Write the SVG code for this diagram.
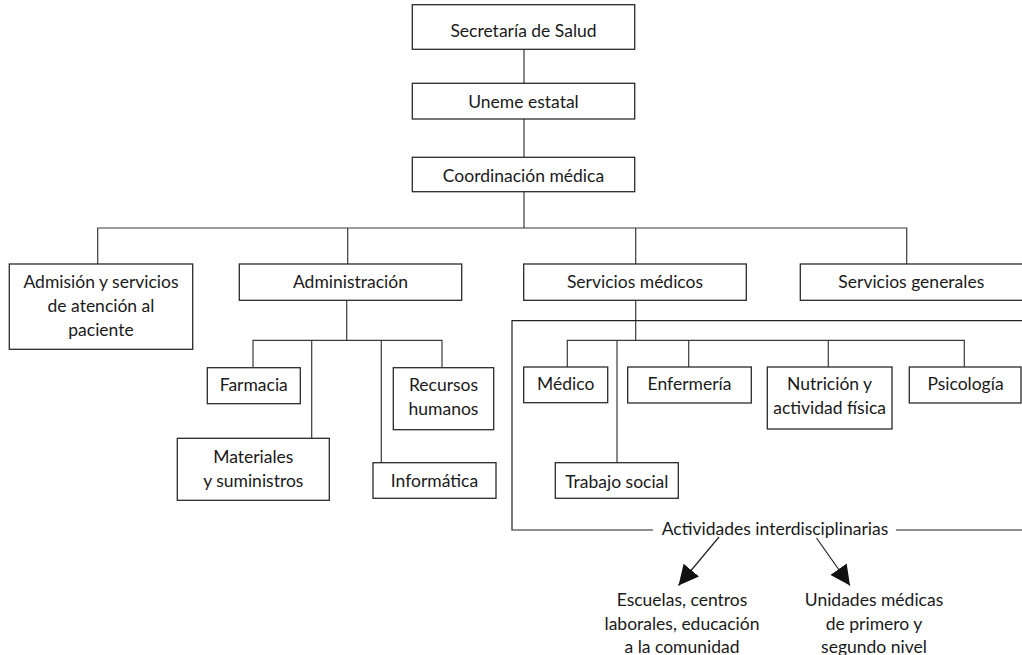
<svg xmlns="http://www.w3.org/2000/svg" width="1022" height="655" viewBox="0 0 1022 655">
<defs>
<style>
.box{fill:#fff;stroke:#2a2a2a;stroke-width:1.3}
.ln{fill:none;stroke:#3a3a3a;stroke-width:1.2}
.t{font-family:Lato,"Open Sans","Liberation Sans",sans-serif;font-size:17.5px;fill:#1a1a1a;text-anchor:middle}
</style>
<marker id="arr" viewBox="0 0 10 10" refX="10" refY="5" markerWidth="20" markerHeight="20" markerUnits="userSpaceOnUse" orient="auto">
<path d="M0,0 L10,5 L0,10 z" fill="#111"/>
</marker>
</defs>
<rect width="1022" height="655" fill="#fff"/>
<g id="connectors">
<line class="ln" x1="524" y1="49" x2="524" y2="83"/>
<line class="ln" x1="524" y1="119" x2="524" y2="157"/>
<line class="ln" x1="524" y1="192" x2="524" y2="228"/>
<polyline class="ln" points="97.7,264 97.7,228 906.7,228 906.7,264"/>
<line class="ln" x1="347.7" y1="228" x2="347.7" y2="264"/>
<line class="ln" x1="635.7" y1="228" x2="635.7" y2="264"/>
<line class="ln" x1="346.7" y1="300" x2="346.7" y2="340.3"/>
<polyline class="ln" points="253,367.7 253,340.3 442,340.3 442,367.7"/>
<line class="ln" x1="311.7" y1="340.3" x2="311.7" y2="438.3"/>
<line class="ln" x1="381.3" y1="340.3" x2="381.3" y2="462.7"/>
<line class="ln" x1="635.7" y1="300" x2="635.7" y2="340.3"/>
<polyline class="ln" points="567.3,367 567.3,340.3 964.3,340.3 964.3,367"/>
<line class="ln" x1="617" y1="340.3" x2="617" y2="462.7"/>
<line class="ln" x1="688.7" y1="340.3" x2="688.7" y2="367"/>
<line class="ln" x1="828.3" y1="340.3" x2="828.3" y2="367"/>
<polyline class="ln" points="1023,320.7 512,320.7 512,530 653,530" style="stroke:#222"/>
<line class="ln" x1="896" y1="530" x2="1023" y2="530" style="stroke:#222"/>
<line class="ln" x1="719" y1="537" x2="678.5" y2="585.5" marker-end="url(#arr)" style="stroke:#222"/>
<line class="ln" x1="816.5" y1="538" x2="850" y2="585.5" marker-end="url(#arr)" style="stroke:#222"/>
</g>
<g id="n-secretaria"><rect class="box" x="412.3" y="4.7" width="222.4" height="44.6"/><text class="t" x="523.5" y="36.5">Secretaría de Salud</text></g>
<g id="n-uneme"><rect class="box" x="412.3" y="83.3" width="222.4" height="35.7"/><text class="t" x="523.5" y="107.5">Uneme estatal</text></g>
<g id="n-coordinacion"><rect class="box" x="412.3" y="157.3" width="222.4" height="34.4"/><text class="t" x="523.5" y="181.5">Coordinación médica</text></g>
<g id="n-admision"><rect class="box" x="9.3" y="264" width="183.4" height="85.3"/><text class="t" x="101" y="287.7">Admisión y servicios</text><text class="t" x="101" y="311.7">de atención al</text><text class="t" x="101" y="335.5">paciente</text></g>
<g id="n-administracion"><rect class="box" x="239.3" y="264" width="222.4" height="36.3"/><text class="t" x="350.5" y="287.7">Administración</text></g>
<g id="n-servmedicos"><rect class="box" x="523.7" y="264" width="222.6" height="36.3"/><text class="t" x="635" y="287.7">Servicios médicos</text></g>
<g id="n-servgenerales"><rect class="box" x="800.3" y="264" width="240" height="36.3"/><text class="t" x="911.3" y="287.7">Servicios generales</text></g>
<g id="n-farmacia"><rect class="box" x="207.3" y="367.7" width="93" height="36"/><text class="t" x="253.8" y="390.7">Farmacia</text></g>
<g id="n-materiales"><rect class="box" x="177.3" y="438.3" width="152" height="62"/><text class="t" x="253.3" y="463.3">Materiales</text><text class="t" x="253.3" y="486.7">y suministros</text></g>
<g id="n-informatica"><rect class="box" x="373" y="462.7" width="123" height="35.6"/><text class="t" x="434.5" y="486.7">Informática</text></g>
<g id="n-rrhh"><rect class="box" x="393.3" y="367.7" width="100.4" height="62"/><text class="t" x="443.5" y="390.7">Recursos</text><text class="t" x="443.5" y="415">humanos</text></g>
<g id="n-medico"><rect class="box" x="523.7" y="367" width="84" height="35.7"/><text class="t" x="565.7" y="390">Médico</text></g>
<g id="n-trabajo"><rect class="box" x="555.3" y="462.7" width="123" height="35.6"/><text class="t" x="616.8" y="487.5">Trabajo social</text></g>
<g id="n-enfermeria"><rect class="box" x="627.7" y="367" width="123.6" height="36"/><text class="t" x="689.5" y="390">Enfermería</text></g>
<g id="n-nutricion"><rect class="box" x="767.3" y="367" width="124.7" height="62"/><text class="t" x="829.6" y="390">Nutrición y</text><text class="t" x="829.6" y="414.3">actividad física</text></g>
<g id="n-psicologia"><rect class="box" x="909.3" y="367" width="111.7" height="36"/><text class="t" x="965.5" y="390">Psicología</text></g>
<g id="n-actividades"><text class="t" x="775" y="535">Actividades interdisciplinarias</text></g>
<g id="n-escuelas"><text class="t" x="682" y="606">Escuelas, centros</text><text class="t" x="682" y="630">laborales, educación</text><text class="t" x="682" y="653">a la comunidad</text></g>
<g id="n-unidades"><text class="t" x="874" y="606">Unidades médicas</text><text class="t" x="874" y="630">de primero y</text><text class="t" x="874" y="653">segundo nivel</text></g>
</svg>
